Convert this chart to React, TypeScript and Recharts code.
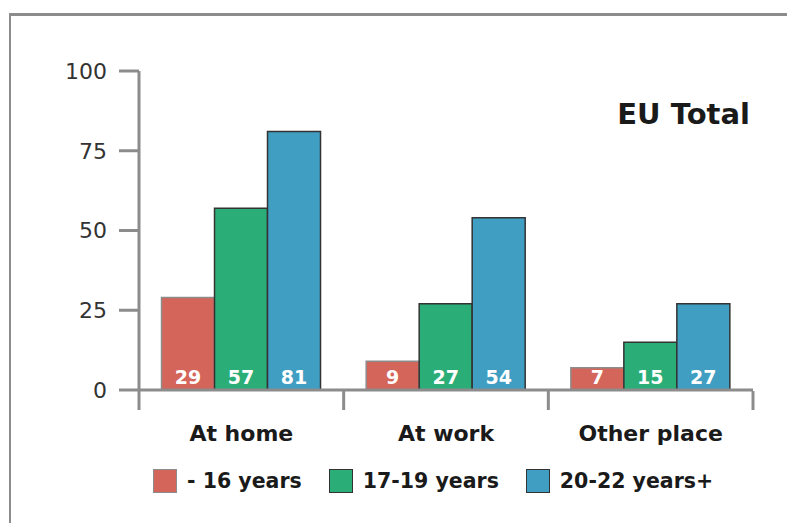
import React from 'react';
import { BarChart, Bar, XAxis, YAxis, LabelList } from 'recharts';

const places = ['At home', 'At work', 'Other place'];
const under16 = [29, 9, 7];
const age17to19 = [57, 27, 15];
const age20to22 = [81, 54, 27];
const yTicks = [0, 25, 50, 75, 100];
const edgeTicks = [0, 1, 2, 3];

const series = [
  { key: 'under16', name: '- 16 years', fill: '#D4655A', stroke: '#8c8c8c' },
  { key: 'age17to19', name: '17-19 years', fill: '#2BAD78', stroke: '#333333' },
  { key: 'age20to22', name: '20-22 years+', fill: '#409EC2', stroke: '#333333' },
];

const data = places.map((place, i) => ({
  place,
  under16: under16[i],
  age17to19: age17to19[i],
  age20to22: age20to22[i],
}));

const FONT = '"DejaVu Sans", sans-serif';
const AXIS = '#8c8c8c';

const App: React.FC = () => {
  return (
    <div style={{ position: 'absolute', left: 0, top: 0, width: 787, height: 523, background: '#fff', overflow: 'hidden' }}>
      {/* frame */}
      <div style={{ position: 'absolute', left: 9, top: 13, width: 800, height: 600, borderLeft: `2px solid ${AXIS}`, borderTop: `3px solid ${AXIS}` }} />

      <BarChart
        width={787}
        height={523}
        data={data}
        margin={{ top: 71, right: 34, bottom: 131, left: 0 }}
        barCategoryGap="11%"
        barGap={0}
        style={{ position: 'absolute', left: 0, top: 0 }}
      >
        {/* category labels; height kept tiny so the edge ticks sit right on the baseline */}
        <XAxis
          dataKey="place"
          tickLine={false}
          tickSize={0}
          tickMargin={35}
          height={1}
          axisLine={{ stroke: AXIS, strokeWidth: 3 }}
          tick={{ fill: '#1a1a1a', fontFamily: FONT, fontWeight: 700, fontSize: 22 }}
        />
        {/* ticks at the category boundaries */}
        <XAxis
          xAxisId="edges"
          type="number"
          dataKey={() => 0}
          domain={[0, 3]}
          ticks={edgeTicks}
          tick={() => <g />}
          tickSize={19}
          axisLine={false}
          tickLine={{ stroke: AXIS, strokeWidth: 3 }}
          height={1}
          allowDataOverflow
        />
        <YAxis
          width={139}
          domain={[0, 100]}
          ticks={yTicks}
          interval={0}
          tickSize={20}
          tickMargin={12}
          axisLine={{ stroke: AXIS, strokeWidth: 3 }}
          tickLine={{ stroke: AXIS, strokeWidth: 3 }}
          tick={{ fill: '#333', fontFamily: FONT, fontWeight: 400, fontSize: 22 }}
        />
        {series.map((s) => (
          <Bar
            key={s.key}
            dataKey={s.key}
            name={s.name}
            fill={s.fill}
            stroke={s.stroke}
            strokeWidth={1.5}
            isAnimationActive={false}
          >
            <LabelList
              dataKey={s.key}
              position="insideBottom"
              offset={6}
              fill="#fff"
              fontFamily={FONT}
              fontWeight={700}
              fontSize={19}
            />
          </Bar>
        ))}
      </BarChart>

      <div
        style={{
          position: 'absolute',
          right: 37,
          top: 100,
          lineHeight: 1,
          fontFamily: FONT,
          fontWeight: 700,
          fontSize: 29,
          color: '#1a1a1a',
        }}
      >
        EU Total
      </div>

      <div
        style={{
          position: 'absolute',
          left: 153,
          top: 469,
          display: 'flex',
          alignItems: 'center',
          fontFamily: FONT,
          fontWeight: 700,
          fontSize: 20.5,
          lineHeight: '24px',
          color: '#1a1a1a',
        }}
      >
        {series.map((s) => (
          <div key={s.key} style={{ display: 'flex', alignItems: 'center', marginRight: 27 }}>
            <span
              style={{
                display: 'inline-block',
                boxSizing: 'border-box',
                width: 24,
                height: 24,
                background: s.fill,
                border: `1.5px solid ${s.stroke}`,
                marginRight: 10,
              }}
            />
            <span>{s.name}</span>
          </div>
        ))}
      </div>
    </div>
  );
};

export default App;
